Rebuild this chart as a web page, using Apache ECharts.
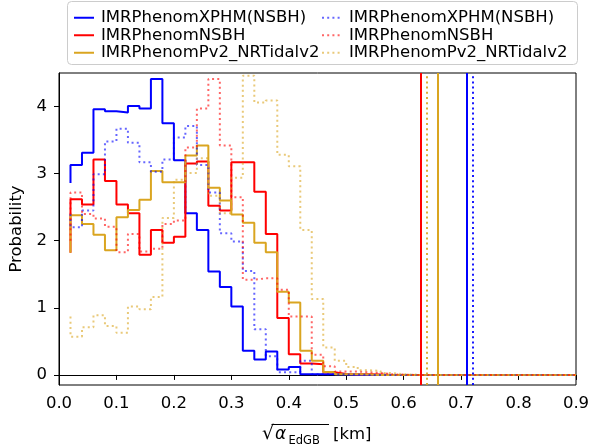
<!DOCTYPE html>
<html><head><meta charset="utf-8">
<script src="https://cdn.jsdelivr.net/npm/echarts@6/dist/echarts.min.js"></script>
<style>html,body{margin:0;padding:0;background:#fff}#c{width:592px;height:446px}</style>
</head><body><div id="c"></div>
<script>
// ---- data ----
const binEdges = [0.02,0.04,0.06,0.08,0.10,0.12,0.14,0.16,0.18,0.20,0.22,0.24,0.26,0.28,0.30,0.32,0.34,0.36,0.38,0.40,0.42,0.44,0.46,0.48,0.50,0.52,0.54,0.56,0.58,0.60,0.62,0.64,0.66,0.68,0.70,0.72,0.74,0.76,0.78,0.80,0.82,0.84,0.86,0.88,0.90];

const xphmSolid = [3.13,3.31,3.96,3.93,3.91,4.01,3.97,4.41,3.75,3.20, 2.41,2.16,1.54,1.31,1.02,0.36,0.23,0.35,0.08,0.12, 0.012,0.012,0.012,0.005,0,0,0,0,0,0, 0,0,0,0,0,0,0,0,0,0, 0,0,0,0];
const nsbhSolid = [2.62,2.54,3.21,2.89,2.54,2.41,1.79,2.16,1.97,2.06, 3.15,3.18,2.52,2.45,3.17,3.17,2.73,2.10,0.85,0.31, 0.17,0.16,0.04,0.015,0.01,0.01,0.005,0,0,0, 0,0,0,0,0,0,0,0,0,0, 0,0,0,0];
const nrtSolid  = [2.38,2.25,2.09,1.86,2.35,2.46,2.61,3.04,2.87,2.87, 3.27,3.42,2.79,2.60,2.39,2.27,1.97,1.83,1.24,1.08, 0.36,0.21,0.045,0.012,0.01,0.005,0,0,0,0, 0,0,0,0,0,0,0,0,0,0, 0,0,0,0];
const xphmDot   = [2.20,2.45,2.99,3.48,3.67,3.46,3.17,3.03,3.21,3.54, 3.71,3.13,2.72,2.11,1.99,1.55,0.68,0.28,0.04,0.04, 0.21,0.012,0.012,0.008,0.005,0,0,0,0,0, 0,0,0,0,0,0,0,0,0,0, 0,0,0,0];
const nsbhDot   = [2.72,2.40,2.33,2.21,1.83,2.10,1.84,1.88,2.25,2.30, 3.39,3.97,4.41,3.42,2.65,1.42,1.44,1.44,1.27,0.87, 0.87,0.30,0.13,0.05,0.05,0.04,0.03,0.01,0.005,0, 0,0,0,0,0,0,0,0,0,0, 0,0,0,0];
const nrtDot    = [0.57,0.71,0.89,0.73,0.63,1.02,0.98,1.16,2.34,2.91, 3.01,3.23,2.67,2.41,2.94,4.46,4.06,4.09,3.28,3.11, 2.16,1.13,0.41,0.21,0.12,0.07,0.06,0.03,0.01,0.005, 0,0,0,0,0,0,0,0,0,0, 0,0,0,0];

// value of each curve where it starts (left edge)
const startValues = [2.86, 1.82, 1.82, 2.40, 2.00, 0.87];
// vertical lines (bounds)
const vLines = [0.710, 0.627, 0.655, 0.718, 0.627, 0.640];

const seriesLabels = ['IMRPhenomXPHM(NSBH)','IMRPhenomNSBH','IMRPhenomPv2_NRTidalv2','IMRPhenomXPHM(NSBH)','IMRPhenomNSBH','IMRPhenomPv2_NRTidalv2'];
const seriesCounts = [xphmSolid, nsbhSolid, nrtSolid, xphmDot, nsbhDot, nrtDot];
const yTicks = [0,1,2,3,4];

// ---- styles ----
const colors = ['#0000ff','#ff0000','#daa520','#0000ff','#ff0000','#daa520'];
const dotted = [false,false,false,true,true,true];
const FONT = 'DejaVu Sans';

function stepData(start, counts) {
  const pts = [[binEdges[0], start]];
  for (let i = 0; i < counts.length; i++) pts.push([binEdges[i], counts[i]]);
  pts.push([binEdges[binEdges.length-1], counts[counts.length-1]]);
  return pts;
}

const series = seriesCounts.map((c, i) => ({
  name: seriesLabels[i] + (dotted[i] ? '|d' : '|s'),
  type: 'line',
  step: 'end',
  symbol: 'none',
  showSymbol: false,
  data: stepData(startValues[i], c),
  lineStyle: {
    color: colors[i], width: 2,
    type: dotted[i] ? [2, 3.2] : 'solid',
    opacity: dotted[i] ? 0.6 : 1
  },
  itemStyle: { color: colors[i] },
  emphasis: { disabled: true },
  markLine: {
    silent: true, symbol: ['none','none'], label: { show: false },
    lineStyle: { color: colors[i], width: 2, type: dotted[i] ? [2, 3.2] : 'solid', opacity: dotted[i] ? 0.9 : 1 },
    emphasis: { disabled: true },
    data: [{ xAxis: vLines[i] }]
  }
}));

const legendBase = {
  orient: 'vertical', top: 4, itemWidth: 20, itemHeight: 10, itemGap: 0,
  itemStyle: { opacity: 0 },
  textStyle: { fontFamily: FONT, fontSize: 16.5, color: '#000', lineHeight: 17.5, padding: [0,0,0,2] },
  formatter: n => n.split('|')[0],
  selectedMode: false
};

const chart = echarts.init(document.getElementById('c'), null, { renderer: 'canvas' });
chart.setOption({
  animation: false,
  backgroundColor: '#fff',
  grid: { left: 59, right: 16, top: 73, bottom: 61, show: true, borderColor: '#000', borderWidth: 1, containLabel: false, outerBoundsMode: 'none' },
  legend: [
    Object.assign({}, legendBase, { left: 68, data: series.slice(0,3).map(s => s.name) }),
    Object.assign({}, legendBase, { left: 316, data: series.slice(3).map(s => s.name) })
  ],
  xAxis: {
    type: 'value', min: 0, max: 0.9, interval: 0.1,
    axisLine: { lineStyle: { color: '#000', width: 1 } },
    axisTick: { show: true, length: 5, lineStyle: { color: '#000' } },
    axisLabel: { color: '#000', fontFamily: FONT, fontSize: 16.5, margin: 10, formatter: v => v.toFixed(1), showMaxLabel: true, showMinLabel: true },
    splitLine: { show: false }
  },
  yAxis: {
    type: 'value', min: -0.15, max: 4.5,
    name: 'Probability', nameLocation: 'middle', nameGap: 33,
    nameTextStyle: { color: '#000', fontFamily: FONT, fontSize: 16.5 },
    axisLine: { show: true, lineStyle: { color: '#000', width: 1 } },
    axisTick: { show: true, length: 5, lineStyle: { color: '#000' }, customValues: yTicks },
    axisLabel: { color: '#000', fontFamily: FONT, fontSize: 16.5, margin: 12, customValues: yTicks },
    splitLine: { show: false }
  },
  graphic: [
    { type: 'rect', z: 0, shape: { x: 67.5, y: 1.5, width: 510, height: 63, r: 4 }, style: { fill: 'rgba(255,255,255,0.8)', stroke: '#cccccc', lineWidth: 1 } },
    { type: 'text', x: 262, y: 434, style: { text: '√', fontFamily: FONT, fontSize: 19, fill: '#000', verticalAlign: 'middle' } },
    { type: 'text', x: 275, y: 435, style: { text: 'α', fontFamily: FONT, fontSize: 17, fontStyle: 'italic', fill: '#000', verticalAlign: 'middle' } },
    { type: 'text', x: 288.5, y: 441, style: { text: 'EdGB', fontFamily: FONT, fontSize: 11.5, fill: '#000', verticalAlign: 'middle' } },
    { type: 'text', x: 333, y: 435, style: { text: '[km]', fontFamily: FONT, fontSize: 16.5, fill: '#000', verticalAlign: 'middle' } },
    { type: 'line', shape: { x1: 271.5, y1: 424.5, x2: 329, y2: 424.5 }, style: { stroke: '#000', lineWidth: 1 } }
  ],
  series: series
});
</script>
</body></html>
